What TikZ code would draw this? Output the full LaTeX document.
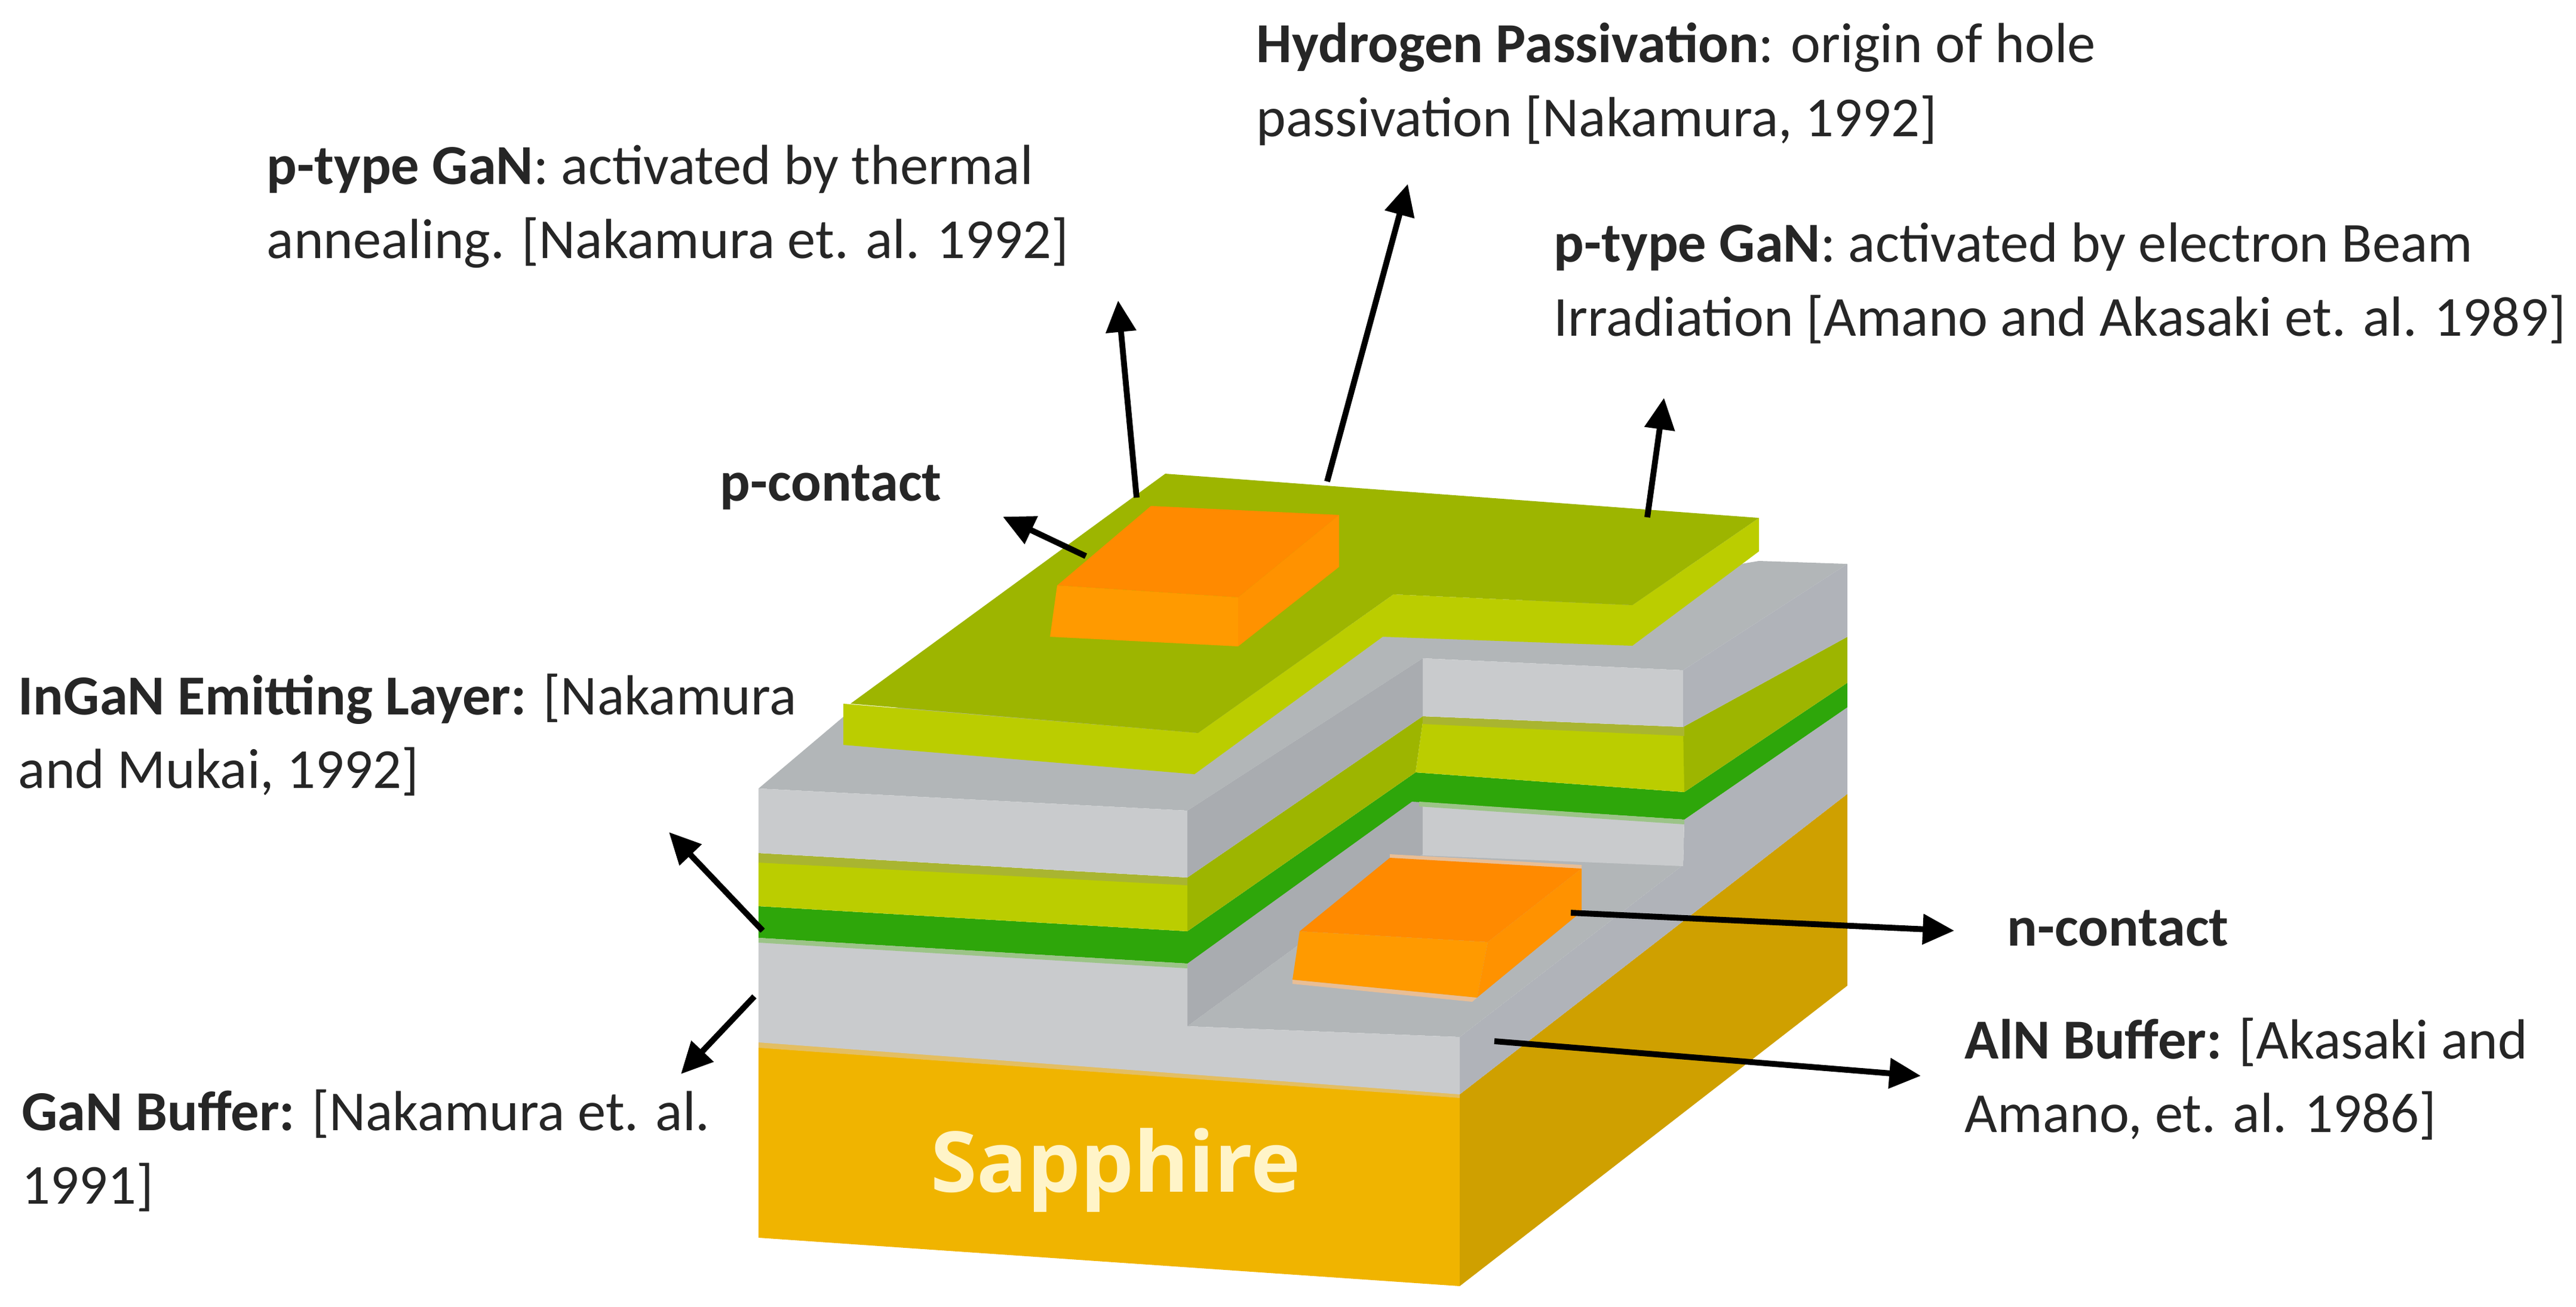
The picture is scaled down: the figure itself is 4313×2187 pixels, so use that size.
\documentclass[tikz,border=0pt]{standalone}
\usepackage{fontspec}
\setmainfont{Carlito}
\newfontfamily\sapfont{Open Sans}
\usetikzlibrary{arrows.meta}
\definecolor{sapfront}{HTML}{F0B400}
\definecolor{sapside}{HTML}{CFA000}
\definecolor{sapedge}{HTML}{E3BE62}
\definecolor{olive}{HTML}{9DB500}
\definecolor{oliveline}{HTML}{A9B530}
\definecolor{lime}{HTML}{BBCD00}
\definecolor{greytop}{HTML}{B2B6B8}
\definecolor{greyfront}{HTML}{C9CBCD}
\definecolor{greyside}{HTML}{B0B3B9}
\definecolor{greydark}{HTML}{A9ACB0}
\definecolor{darkgreen}{HTML}{2EA60A}
\definecolor{greenedge}{HTML}{9CC488}
\definecolor{ortop}{HTML}{FF8A00}
\definecolor{orfront}{HTML}{FF9A00}
\definecolor{orside}{HTML}{FF9200}
\definecolor{oredge}{HTML}{E8BE96}
\definecolor{sapwhite}{HTML}{FFF4C8}
\tikzset{
  lab/.style={anchor=north west,inner sep=0pt,align=left,font=\fontsize{26.9}{35.2}\selectfont,text=black!85},
  oneline/.style={anchor=base west,inner sep=0pt,font=\fontsize{26.9}{35.2}\selectfont\bfseries,text=black!85},
  pointer/.style={draw=black,line width=2.8pt,-{Triangle[length=15pt,width=14pt]}},
  sapname/.style={anchor=base,inner sep=0pt,text=sapwhite,font=\fontsize{40}{44}\selectfont\sapfont\bfseries}
}
\begin{document}
\begin{tikzpicture}[x=0.01cm,y=-0.01cm]
\useasboundingbox (0,0) rectangle (4313,2187);
% Sapphire
\fill[sapfront] (1270,1742)--(2444,1832)--(2444,2153)--(1270,2072)--cycle;
\fill[sapedge] (1270,1742)--(2444,1827)--(2444,1838)--(1270,1754)--cycle;
\fill[sapside] (2444,1832)--(3093,1329)--(3093,1650)--(2444,2153)--cycle;
% Lower GaN
\fill[greyside] (2444,1736)--(2818,1448)--(2820,1372)--(3093,1184)--(3093,1329)--(2444,1832)--cycle;
\fill[greytop] (1988,1718)--(2382,1430)--(2818,1448)--(2444,1736)--cycle;
\fill[greydark] (1988,1610)--(2364,1340)--(2382,1342)--(2382,1430)--(1988,1718)--cycle;
\fill[greyfront] (2382,1342)--(2820,1372)--(2818,1450)--(2382,1432)--cycle;
\fill[greyfront] (1270,1570)--(1988,1610)--(1988,1718)--(2444,1736)--(2444,1832)--(1270,1745)--cycle;
% InGaN dark green
\fill[darkgreen] (1270,1517)--(1988,1559)--(2370,1293)--(2820,1326)--(3093,1143)--(3093,1184)--(2820,1372)--(2364,1342)--(1988,1613)--(1270,1570)--cycle;
\fill[greenedge] (1270,1570)--(1988,1613)--(1988,1621)--(1270,1578)--cycle;
\fill[greenedge] (2376,1342)--(2820,1372)--(2820,1380)--(2376,1350)--cycle;
% light green layer
\fill[lime] (1270,1436)--(1988,1478)--(1988,1559)--(1270,1517)--cycle;
\fill[lime] (2382,1209)--(2820,1229)--(2820,1326)--(2370,1293)--cycle;
\fill[olive] (1988,1469)--(2382,1199)--(2382,1209)--(2370,1293)--(1988,1559)--cycle;
\fill[olive] (2818,1217)--(3093,1066)--(3093,1143)--(2820,1326)--cycle;
\fill[oliveline] (1270,1428)--(1988,1469)--(1988,1482)--(1270,1444)--cycle;
\fill[oliveline] (2382,1199)--(2820,1217)--(2820,1232)--(2382,1212)--cycle;
% Upper GaN
\fill[greytop] (1412,1200)--(2945,939)--(3093,944)--(2818,1122)--(2382,1102)--(1988,1357)--(1270,1320)--cycle;
\fill[greyfront] (1270,1320)--(1988,1357)--(1988,1469)--(1270,1428)--cycle;
\fill[greyfront] (2382,1102)--(2818,1122)--(2818,1217)--(2382,1199)--cycle;
\fill[greydark] (1988,1357)--(2382,1102)--(2382,1199)--(1988,1469)--cycle;
\fill[greyside] (2818,1122)--(3093,944)--(3093,1066)--(2818,1217)--cycle;
% p-GaN
\fill[lime] (1412,1178)--(2006,1227)--(2333,995)--(2733,1013)--(2945,867)--(2945,923)--(2733,1081)--(2315,1066)--(2000,1296)--(1412,1247)--cycle;
\fill[olive] (1951,793)--(2945,867)--(2733,1013)--(2333,995)--(2006,1227)--(1424,1178)--cycle;
% p-contact
\fill[ortop] (1927,847)--(2242,862)--(2073,1000)--(1770,980)--cycle;
\fill[orfront] (1770,980)--(2073,1000)--(2073,1082)--(1758,1066)--cycle;
\fill[orside] (2242,862)--(2242,949)--(2073,1082)--(2073,1000)--cycle;
% n-contact
\fill[oredge] (2327,1430)--(2648,1448)--(2648,1460)--(2327,1442)--cycle;
\fill[oredge] (2164,1640)--(2473,1670)--(2465,1677)--(2164,1647)--cycle;
\fill[ortop] (2327,1436)--(2648,1454)--(2491,1577)--(2176,1559)--cycle;
\fill[orfront] (2176,1559)--(2491,1577)--(2473,1670)--(2164,1640)--cycle;
\fill[orside] (2648,1454)--(2648,1526)--(2473,1670)--(2491,1577)--cycle;
% Sapphire label
\node[sapname] (sap) at (1868,1995) {Sapphire};
% Labels
\node[lab] (thermal) at (446,242) {\textbf{p-type GaN}: activated by thermal\\annealing. [Nakamura et. al. 1992]};
\node[lab] (hydrogen) at (2103,37) {\textbf{Hydrogen Passivation}: origin of hole\\passivation [Nakamura, 1992]};
\node[lab] (ebeam) at (2601,372) {\textbf{p-type GaN}: activated by electron Beam\\Irradiation [Amano and Akasaki et. al. 1989]};
\node[oneline] (pcontact) at (1205,838) {p-contact};
\node[lab] (ingan) at (30,1127) {\textbf{InGaN Emitting Layer:} [Nakamura\\and Mukai, 1992]};
\node[lab] (ganbuf) at (36,1823) {\textbf{GaN Buffer:} [Nakamura et. al.\\1991]};
\node[oneline] (ncontact) at (3360,1583) {n-contact};
\node[lab] (aln) at (3289,1703) {\textbf{AlN Buffer:} [Akasaki and\\Amano, et. al. 1986]};
% Arrow ends
\coordinate (a1) at (1903,833); \coordinate (b1) at (1872,503);
\coordinate (a2) at (2222,806); \coordinate (b2) at (2357,308);
\coordinate (a3) at (2758,866); \coordinate (b3) at (2786,666);
\coordinate (a4) at (1818,931); \coordinate (b4) at (1679,865);
\coordinate (a5) at (1277,1558); \coordinate (b5) at (1120,1393);
\coordinate (a6) at (1263,1668); \coordinate (b6) at (1140,1798);
\coordinate (a7) at (2630,1528); \coordinate (b7) at (3272,1558);
\coordinate (a8) at (2502,1743); \coordinate (b8) at (3216,1801);
\draw[pointer] (a1)--(b1);
\draw[pointer] (a2)--(b2);
\draw[pointer] (a3)--(b3);
\draw[pointer] (a4)--(b4);
\draw[pointer] (a5)--(b5);
\draw[pointer] (a6)--(b6);
\draw[pointer] (a7)--(b7);
\draw[pointer] (a8)--(b8);
\end{tikzpicture}
\end{document}
